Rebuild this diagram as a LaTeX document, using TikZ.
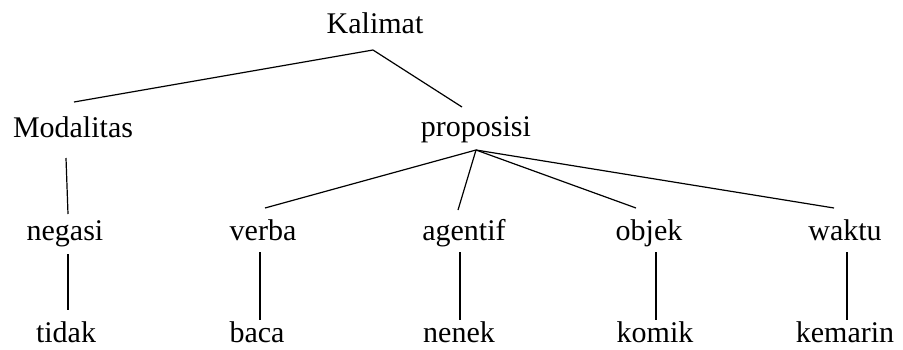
\documentclass[tikz,border=0pt]{standalone}
\usepackage{fontspec}
\setmainfont{Liberation Serif}
\begin{document}
\begin{tikzpicture}[x=1pt,y=-1pt,
  lbl/.style={anchor=base,inner sep=0pt,font=\fontsize{30}{36}\selectfont},
  edge/.style={draw=black,line width=1.2pt}]
\useasboundingbox (0,0) rectangle (903,349);
\node[lbl] (K) at (375,33) {Kalimat};
\node[lbl] (M) at (73,137) {Modalitas};
\node[lbl] (P) at (476,136) {proposisi};
\node[lbl] (N) at (65,240) {negasi};
\node[lbl] (V) at (263,240) {verba};
\node[lbl] (A) at (464,240) {agentif};
\node[lbl] (O) at (649,240) {objek};
\node[lbl] (W) at (845,240) {waktu};
\node[lbl] (T) at (66,342) {tidak};
\node[lbl] (B) at (257,342) {baca};
\node[lbl] (NE) at (459,342) {nenek};
\node[lbl] (KO) at (655,342) {komik};
\node[lbl] (KE) at (845,342) {kemarin};
\draw[edge] ([shift={(-2,17)}]K.base) -- ([shift={(1,-35)}]M.base);
\draw[edge] ([shift={(-2,17)}]K.base) -- ([shift={(-14,-29)}]P.base);
\draw[edge] ([shift={(-7,21)}]M.base) -- ([shift={(3,-26)}]N.base);
\draw[edge] ([shift={(0,14)}]P.base) -- ([shift={(2,-32)}]V.base);
\draw[edge] ([shift={(0,14)}]P.base) -- ([shift={(-6,-30)}]A.base);
\draw[edge] ([shift={(0,14)}]P.base) -- ([shift={(-13,-32)}]O.base);
\draw[edge] ([shift={(0,14)}]P.base) -- ([shift={(-11,-32)}]W.base);
\draw[edge] ([shift={(3,14)}]N.base) -- ([shift={(2,-32)}]T.base);
\draw[edge] ([shift={(-3,12)}]V.base) -- ([shift={(3,-22)}]B.base);
\draw[edge] ([shift={(-4,12)}]A.base) -- ([shift={(1,-22)}]NE.base);
\draw[edge] ([shift={(7,12)}]O.base) -- ([shift={(1,-22)}]KO.base);
\draw[edge] ([shift={(2,12)}]W.base) -- ([shift={(2,-22)}]KE.base);
\end{tikzpicture}
\end{document}
